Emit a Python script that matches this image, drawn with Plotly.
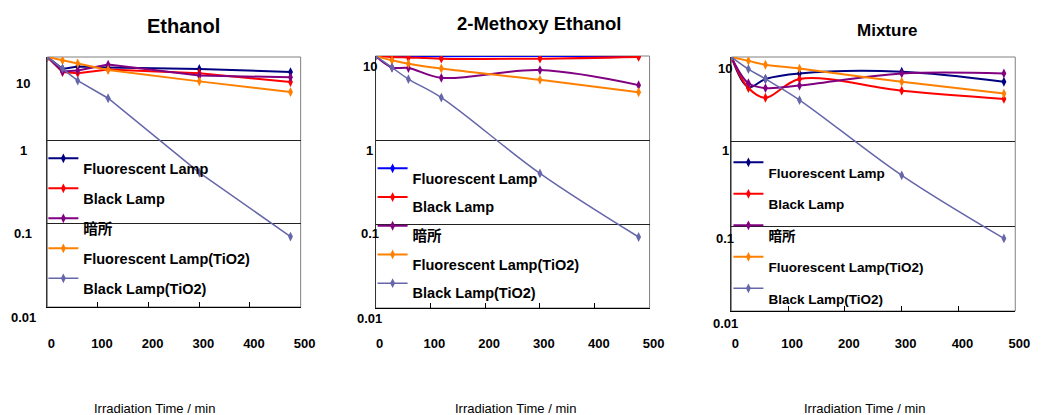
import math
import plotly.graph_objects as go

# ---------------- data ----------------
time_min = [0, 30, 60, 120, 300, 480]
series_names = ["Fluorescent Lamp", "Black Lamp", "暗所",
                "Fluorescent Lamp(TiO2)", "Black Lamp(TiO2)"]
panel_titles = ["Ethanol", "2-Methoxy Ethanol", "Mixture"]
x_title = "Irradiation Time / min"
x_tick_vals = [0, 100, 200, 300, 400, 500]
y_tick_vals = [0.01, 0.1, 1, 10]
y_tick_text = ["0.01", "0.1", "1", "10"]

ethanol_fl = [10, 7.2, 7.7, 7.5, 7.2, 6.6]
ethanol_bl = [10, 6.6, 6.4, 7.1, 6.4, 5.0]
ethanol_dark = [10, 6.7, 6.9, 8.1, 6.0, 5.7]
ethanol_fl_tio2 = [10, 9.1, 8.4, 7.0, 5.1, 3.8]
ethanol_bl_tio2 = [10, 7.3, 5.2, 3.2, 0.41, 0.070]

methoxy_fl = [10, 9.95, 9.95, 9.95, 10, 10]
methoxy_bl = [10, 9.75, 9.6, 9.3, 9.3, 9.75]
methoxy_dark = [10, 7.3, 7.2, 5.5, 6.8, 4.5]
methoxy_fl_tio2 = [10, 8.9, 8.1, 7.1, 5.2, 3.7]
methoxy_bl_tio2 = [10, 7.3, 5.3, 3.2, 0.40, 0.070]

mixture_fl = [10, 4.4, 5.5, 6.4, 6.7, 5.1]
mixture_bl = [10, 4.3, 3.3, 5.5, 4.0, 3.2]
mixture_dark = [10, 4.9, 4.3, 4.6, 6.4, 6.4]
mixture_fl_tio2 = [10, 9.0, 8.1, 7.3, 5.1, 3.7]
mixture_bl_tio2 = [10, 7.2, 5.5, 3.1, 0.40, 0.072]

panel_data = [
    [ethanol_fl, ethanol_bl, ethanol_dark, ethanol_fl_tio2, ethanol_bl_tio2],
    [methoxy_fl, methoxy_bl, methoxy_dark, methoxy_fl_tio2, methoxy_bl_tio2],
    [mixture_fl, mixture_bl, mixture_dark, mixture_fl_tio2, mixture_bl_tio2],
]

# ---------------- style / layout ----------------
W, H = 1048, 415
FONT = "Liberation Sans, Arial, Noto Sans CJK JP, sans-serif"
series_colors = [
    ["#000080", "#FF0000", "#800080", "#FF8000", "#6666AA"],
    ["#0000FF", "#FF0000", "#800080", "#FF8000", "#6666AA"],
    ["#000080", "#FF0000", "#800080", "#FF8000", "#6666AA"],
]
line_shapes = ["linear", "spline", "spline"]

panels = [
    dict(x0=48, x1=305, y0=57, y1=307, title_cx=186.5, title_cy=25.5, title_size=20,
         ylab_dx=-24, ylab_dy={0.01: -10, 0.1: -10, 1: -10, 10: -26},
         xtitle_dx=-19, xlab_off=24, leg_x=44, leg_y=146, leg_font=14.5, leg_gap=3.6),
    dict(x0=381, x1=659, y0=56, y1=308, title_cx=547, title_cy=23.3, title_size=18.5,
         ylab_dx=-6, ylab_dy={0.01: -10, 0.1: -10, 1: -11, 10: -11},
         xtitle_dx=3, xlab_off=23, leg_x=378, leg_y=156, leg_font=14.5, leg_gap=2.3),
    dict(x0=742, x1=1030, y0=57, y1=311, title_cx=899.5, title_cy=30.3, title_size=17,
         ylab_dx=-6, ylab_dy={0.01: -12, 0.1: -12, 1: -9, 10: -11},
         xtitle_dx=-9, xlab_off=20, leg_x=739, leg_y=150, leg_font=13.5, leg_gap=5.1),
]

fig = go.Figure()
annotations = []
shapes = []
layout = {}

for i, p in enumerate(panels):
    sfx = "" if i == 0 else str(i + 1)
    xa, ya = "x" + sfx, "y" + sfx
    leg = "legend" + sfx
    for k, name in enumerate(series_names):
        c = series_colors[i][k]
        fig.add_trace(go.Scatter(
            x=time_min, y=panel_data[i][k], xaxis=xa, yaxis=ya,
            mode="lines+markers",
            name="<br><span style='font-size:%spx'>%s</span>" % (p["leg_font"], name),
            legend=leg, legendgroup="g%d_%d" % (i, k),
            line=dict(color=c, width=1.5 if k == 4 else 2, shape=line_shapes[i], smoothing=1),
            marker=dict(symbol="diamond-tall", size=7, color=c),
            hoverinfo="x+y",
        ))

    layout["xaxis" + sfx] = dict(
        domain=[p["x0"] / W, p["x1"] / W], anchor=ya, range=[0, 500],
        tickvals=x_tick_vals, ticks="inside", ticklen=5, tickcolor="black",
        showline=True, linecolor="black", linewidth=1, showgrid=False, zeroline=False,
        tickfont=dict(family=FONT, size=13, color="black", weight="bold"),
        ticklabelstandoff=p["xlab_off"], ticklabelshift=4,
    )
    layout["yaxis" + sfx] = dict(
        domain=[1 - p["y1"] / H, 1 - p["y0"] / H], anchor=xa, type="log", range=[-2, 1],
        tickvals=y_tick_vals, showticklabels=False, ticks="",
        showline=True, linecolor="#333333", linewidth=1,
        showgrid=True, gridcolor="#222222", gridwidth=1, zeroline=False,
    )
    layout[leg] = dict(
        x=p["leg_x"] / W, y=1 - p["leg_y"] / H, xanchor="left", yanchor="top",
        bgcolor="rgba(0,0,0,0)", borderwidth=0, valign="top",
        tracegroupgap=p["leg_gap"], itemwidth=30,
        font=dict(family=FONT, size=9, color="black", weight="bold"),
    )
    # plot frame (top/right border)
    shapes.append(dict(type="rect", xref=xa + " domain", yref=ya + " domain",
                       x0=0, x1=1, y0=0, y1=1, line=dict(color="#808080", width=1),
                       layer="below"))
    # y tick labels
    for v, t in zip(y_tick_vals, y_tick_text):
        annotations.append(dict(
            text=t, xref=xa + " domain", x=0, xshift=p["ylab_dx"], xanchor="center",
            yref=ya, y=math.log10(v), yshift=p["ylab_dy"][v], yanchor="middle",
            showarrow=False, font=dict(family=FONT, size=13, color="black", weight="bold"),
        ))
    # panel title
    annotations.append(dict(
        text=panel_titles[i], xref="paper", yref="paper",
        x=p["title_cx"] / W, y=1 - p["title_cy"] / H, xanchor="center", yanchor="middle",
        showarrow=False, font=dict(family=FONT, size=p["title_size"], color="black", weight="bold"),
    ))
    # x axis title
    annotations.append(dict(
        text=x_title, xref=xa + " domain", x=0.5, xshift=p["xtitle_dx"], xanchor="center",
        yref="paper", y=1 - 408 / H, yanchor="middle", showarrow=False,
        font=dict(family=FONT, size=13, color="black"),
    ))

fig.update_layout(
    width=W, height=H, margin=dict(l=0, r=0, t=0, b=0),
    paper_bgcolor="white", plot_bgcolor="white",
    annotations=annotations, shapes=shapes, **layout,
)

fig.write_html("out.html")
